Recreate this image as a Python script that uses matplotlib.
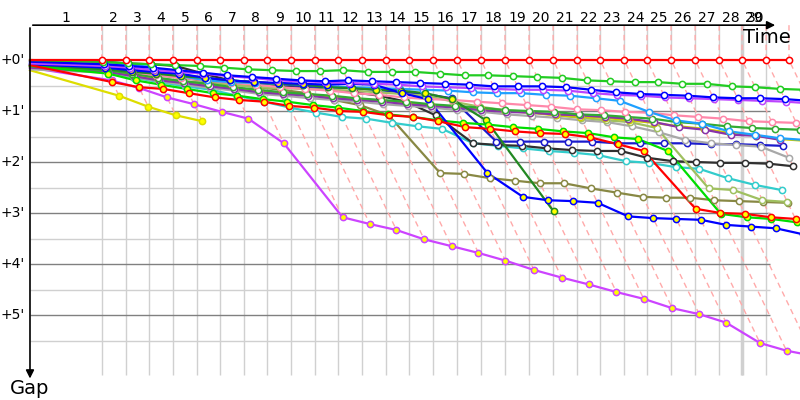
import matplotlib
matplotlib.use("Agg")
import matplotlib.pyplot as plt

# leader's lap end times [s] and lap labels
leader_times = [176, 235, 292, 350, 409, 466, 524, 581, 640, 698, 755, 814, 872, 929, 988,
                1047, 1105, 1164, 1223, 1282, 1341, 1397, 1456, 1512, 1571, 1630, 1689, 1745, 1804, 1860]
lap_labels = [str(i) for i in range(1, 31)]

# gap to leader [s], index 0 = start, then one value per completed lap
gap_leader = [0] * 31
gap_green = [0, 2, 4, 5, 6, 7, 9, 11, 12, 13, 13, 12, 14, 14, 14, 16, 18, 18, 19, 20, 21, 24, 25, 26, 26, 28, 28, 31, 32, 34, 35]
gap_blue = [2, 5, 7, 9, 12, 15, 18, 20, 22, 24, 25, 24, 25, 26, 27, 28, 29, 31, 31, 31, 32, 35, 38, 40, 41, 42, 44, 45, 45, 46, 48]
gap_violet = [4, 7, 9, 12, 14, 16, 19, 21, 24, 25, 26, 27, 28, 29, 31, 32, 33, 34, 35, 35, 36, 39, 41, 42, 44, 45, 46, 47, 48, 49, 51]
gap_lightblue = [4, 5, 6, 8, 19, 24, 26, 27, 28, 29, 31, 32, 33, 34, 35, 36, 38, 39, 39, 41, 42, 45, 48, 61, 71, 75, 84, 88, 92, 94]
gap_pink = [6, 9, 14, 18, 21, 24, 27, 29, 32, 34, 36, 39, 41, 44, 46, 47, 49, 51, 53, 55, 58, 59, 61, 62, 65, 67, 69, 72, 73, 74]
gap_medgreen = [7, 12, 16, 21, 25, 28, 32, 35, 38, 40, 42, 45, 47, 49, 52, 54, 56, 59, 60, 61, 64, 65, 67, 69, 73, 75, 78, 80, 81, 82]
gap_lightolive = [8, 13, 18, 21, 25, 27, 29, 32, 33, 34, 35, 36, 38, 40, 42, 49, 55, 59, 61, 65, 68, 71, 73, 80, 151, 153, 165, 167]
gap_darkpurple = [9, 14, 19, 24, 27, 31, 34, 38, 40, 42, 45, 47, 49, 52, 54, 56, 59, 61, 62, 64, 65, 67, 69, 73, 79, 82, 88, 89, 94]
gap_yellow2 = [8, 13, 18, 22, 26, 29, 33, 36, 39, 41, 44, 46, 48, 51, 53, 55, 58, 60, 62, 65, 67, 68, 71, 74, 78, 81, 86, 89, 93, 95]
gap_gray = [11, 15, 20, 25, 29, 33, 36, 40, 42, 45, 47, 49, 52, 54, 56, 59, 61, 64, 66, 68, 71, 73, 78, 85, 94, 98, 100, 102, 115]
gap_navy = [5, 7, 11, 14, 18, 21, 24, 26, 28, 31, 32, 33, 35, 38, 40, 45, 96, 96, 96, 96, 96, 98, 98, 98, 98, 99, 99, 100, 101]
gap_black = [1, 2, 4, 5, 7, 16, 24, 28, 31, 33, 35, 38, 42, 49, 65, 98, 100, 101, 104, 106, 107, 107, 115, 119, 120, 121, 121, 122, 125]
gap_cyan = [6, 14, 21, 26, 31, 35, 42, 49, 56, 62, 67, 69, 74, 78, 81, 98, 101, 104, 107, 109, 112, 119, 121, 126, 128, 139, 147, 153]
gap_olive = [7, 11, 14, 18, 21, 25, 28, 32, 35, 39, 47, 53, 65, 133, 134, 139, 142, 145, 145, 151, 156, 161, 162, 162, 165, 166, 167, 168]
gap_red2 = [6, 26, 32, 34, 39, 44, 47, 49, 54, 56, 60, 61, 65, 67, 72, 79, 81, 84, 86, 87, 91, 99, 107, 175, 180, 181, 185, 187]
gap_blue2 = [5, 9, 12, 14, 16, 21, 24, 26, 27, 28, 29, 28, 29, 39, 46, 133, 161, 165, 166, 168, 184, 186, 187, 188, 194, 196, 198, 205]
gap_darkgreen = [6, 11, 14, 16, 19, 21, 24, 26, 28, 29, 32, 33, 35, 36, 39, 46, 71, 178]
gap_green3 = [7, 16, 24, 29, 34, 39, 42, 46, 49, 53, 56, 60, 64, 67, 71, 74, 76, 79, 81, 84, 86, 91, 93, 107, 181, 185, 187, 191]
gap_purple2 = [9, 24, 33, 44, 52, 61, 69, 98, 185, 193, 200, 211, 219, 227, 236, 247, 256, 264, 273, 281, 292, 299, 309, 333, 342, 348]
gap_yellow = [12, 42, 55, 65, 72]

# (gaps, line colour, marker face)
drivers = [
    (gap_yellow, "#dddd00", "#ffff00"),
    (gap_purple2, "#cc44ff", "#ffff00"),
    (gap_olive, "#888844", "white"),
    (gap_cyan, "#33cccc", "white"),
    (gap_black, "#303030", "white"),
    (gap_navy, "#1a1acc", "white"),
    (gap_gray, "#a8a8a8", "white"),
    (gap_lightolive, "#a0c060", "white"),
    (gap_yellow2, "#cccc00", "white"),
    (gap_darkpurple, "#8833aa", "white"),
    (gap_medgreen, "#33aa33", "white"),
    (gap_pink, "#ff88aa", "white"),
    (gap_lightblue, "#1ea0ff", "white"),
    (gap_darkgreen, "#228822", "#ffff00"),
    (gap_green3, "#00dd00", "#ffff00"),
    (gap_blue2, "#0000ff", "#ffff00"),
    (gap_red2, "#ff0000", "#ffff00"),
    (gap_violet, "#bb44ff", "white"),
    (gap_blue, "#0000ff", "white"),
    (gap_green, "#22cc22", "white"),
    (gap_leader, "#ff0000", "white"),
]

top = -41      # time axis position (gap units)
bottom = 371
t_end = 1814

fig = plt.figure(figsize=(8, 4), dpi=100)
ax = fig.add_axes([0, 0, 1, 1])
ax.set_xlim(-73.5, 1887)
ax.set_ylim(400, -70.6)
ax.axis("off")

# grid
ax.vlines(leader_times[:29], top, bottom, color="#d0d0d0", lw=1, zorder=0)
ax.vlines(leader_times[27], top, bottom, color="#d0d0d0", lw=2.5, zorder=0)
for g in range(30, 360, 30):
    ax.hlines(g, 0, t_end, color="#808080" if g % 60 == 0 else "#d0d0d0", lw=1, zorder=0)

# lap lines (same lap for every driver)
for k, lt in enumerate(leader_times):
    gmax = max(d[0][k + 1] for d in drivers if len(d[0]) > k + 1)
    ax.plot([lt, lt, lt + gmax], [top, 0, gmax], color="#ffaaaa", lw=1,
            ls=(0, (4, 3)), zorder=1)

# drivers
for gaps, color, face in drivers:
    xs = [0] + [leader_times[k] + g for k, g in enumerate(gaps[1:])]
    ax.plot(xs, gaps, color=color, lw=1.6, zorder=2)
    ax.plot(xs[1:], gaps[1:], "o", ms=4.5, mfc=face, mec=color, mew=1.1, zorder=3)

# axes arrows
ax.annotate("", xy=(1833, top), xytext=(0, top),
            arrowprops=dict(arrowstyle="-|>", color="black", lw=1.2, mutation_scale=12))
ax.annotate("", xy=(0, bottom + 7), xytext=(0, top),
            arrowprops=dict(arrowstyle="-|>", color="black", lw=1.2, mutation_scale=12))

# lap labels
starts = [0] + leader_times[:-1]
mid29 = (leader_times[27] + leader_times[28]) / 2
for lab, a, b in zip(lap_labels, starts, leader_times):
    ax.text(min((a + b) / 2, mid29 + 3), -49, lab, ha="center", va="center", fontsize=10)

for m in range(6):
    ax.text(-12, m * 60, f"+{m}'", ha="right", va="center", fontsize=10)

ax.text(1747, -27, "Time", ha="left", va="center", fontsize=14)
ax.text(-1, 386, "Gap", ha="center", va="center", fontsize=14)

fig.savefig("out.png", dpi=100)
